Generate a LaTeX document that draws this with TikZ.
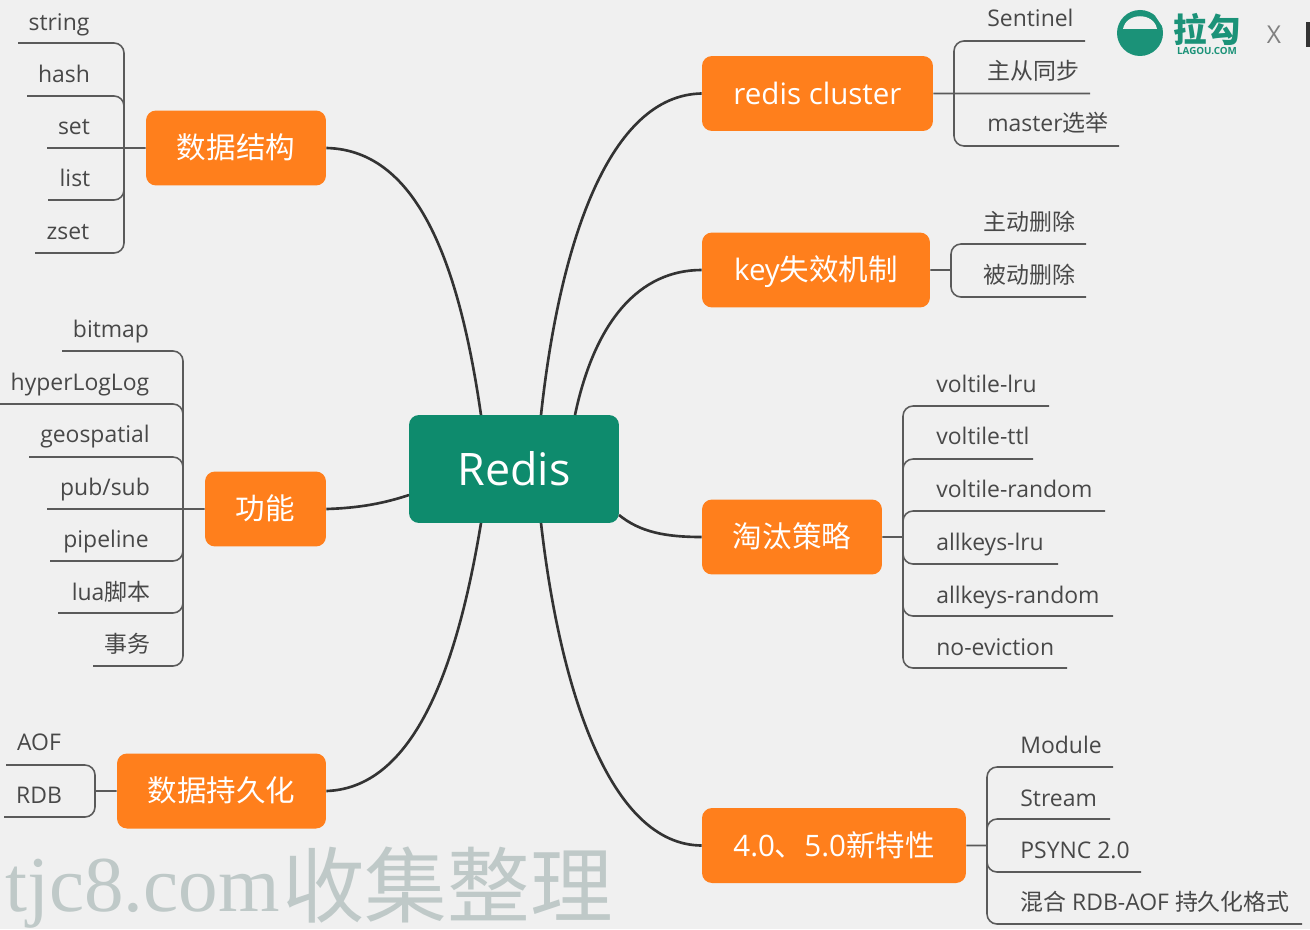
\documentclass[tikz,border=0pt]{standalone}
\usepackage{fontspec}
\setmainfont{Open Sans}
\newfontfamily\cjk{Noto Sans CJK SC}
\newfontfamily\wmfont{Liberation Serif}
\definecolor{bgpage}{HTML}{F0F0F0}
\definecolor{topicor}{HTML}{FF7F1C}
\definecolor{rootgr}{HTML}{0E8B6D}
\definecolor{logogr}{HTML}{1B9278}
\definecolor{inkgr}{HTML}{484848}
\definecolor{wmgr}{HTML}{BFC9C8}
\tikzset{
  topic/.style={fill=topicor,rounded corners=0.2cm,text=white,font=\fontsize{16.8}{20}\selectfont,minimum height=1.5cm,inner sep=0pt,text height=12pt,text depth=0pt},
  leaf/.style={text=inkgr,font=\fontsize{13.05}{16}\selectfont,inner sep=0pt,text height=9.6pt,text depth=0pt},
  twig/.style={draw=inkgr!90,line width=0.9pt,rounded corners=0.2cm},
  limb/.style={draw=black!80,line width=1.5pt}
}
\begin{document}
\begin{tikzpicture}[x=0.02cm,y=-0.02cm]
		\useasboundingbox[fill=bgpage] (0,0) rectangle (1310,929);
		% watermark
		\node[text=wmgr,font=\wmfont\fontsize{45}{50}\selectfont,anchor=base west,inner sep=0pt] (wma) at (5,911) {tjc8.com};
		\node[text=wmgr,font=\cjk\fontsize{47}{50}\selectfont,anchor=base west,inner sep=0pt] (wmb) at (282,916) {收集整理};
		% logo
		\fill[logogr] (1140,33) circle (23);
		\fill[bgpage] (1123,29) .. controls (1126,12) and (1154,12) .. (1157,29) -- cycle;
		\draw[bgpage,line width=2.2pt] (1157,15) -- (1163,24);
		\node[text=logogr,font=\cjk\bfseries\fontsize{19}{20}\selectfont,inner sep=0pt] (lg) at (1207,29) {拉勾};
		\node[text=logogr,font=\bfseries\fontsize{5.6}{6}\selectfont,inner sep=0pt] (lgb) at (1207,51) {LAGOU.COM};
		\node[text=gray,font=\fontsize{14}{16}\selectfont,inner sep=0pt] (xx) at (1274,35) {X};
		\fill[black!80] (1306,22) rectangle (1310,47);
		% topics
		\node[fill=rootgr,rounded corners=0.2cm,text=white,font=\fontsize{25.5}{30}\selectfont,minimum width=4.2cm,minimum height=2.16cm,inner sep=0pt] (root) at (514,469) {Redis};
		\node[topic,minimum width=3.6cm] (t1) at (236,148) {\cjk 数据结构};
		\node[topic,minimum width=2.42cm] (t2) at (265.5,509) {\cjk 功能};
		\node[topic,minimum width=4.18cm] (t3) at (221.5,791) {\cjk 数据持久化};
		\node[topic,minimum width=4.62cm] (t4) at (817.5,93.5) {redis cluster};
		\node[topic,minimum width=4.56cm] (t5) at (816,270) {key{\cjk 失效机制}};
		\node[topic,minimum width=3.6cm] (t6) at (792,537) {\cjk 淘汰策略};
		\node[topic,minimum width=5.28cm] (t7) at (834,845.5) {4.0{\cjk 、}5.0{\cjk 新特性}};
		% where the limbs meet the root
		\coordinate (ra) at (481,415);
		\coordinate (rb) at (541,415);
		\coordinate (rc) at (575,415);
		\coordinate (rd) at (409,495);
		\coordinate (re) at (619,515);
		\coordinate (rf) at (481,523);
		\coordinate (rg) at (541,523);
		\draw[limb] (t1.east) .. controls (420,150) and (460,270) .. (ra);
		\draw[limb] (t2.east) .. controls (360,508) and (385,503) .. (rd);
		\draw[limb] (t3.east) .. controls (420,788) and (460,650) .. (rf);
		\draw[limb] (t4.west) .. controls (610,95) and (560,240) .. (rb);
		\draw[limb] (t5.west) .. controls (640,270) and (595,320) .. (rc);
		\draw[limb] (t6.west) .. controls (665,537) and (640,532) .. (re);
		\draw[limb] (t7.west) .. controls (610,845) and (560,690) .. (rg);
		% leaves of t1
		\coordinate (h1) at (124,148);
		\node[leaf] (a1) at (59,22) {string};
		\node[leaf] (a2) at (64,74) {hash};
		\node[leaf] (a3) at (74,126) {set};
		\node[leaf] (a4) at (75,178) {list};
		\node[leaf] (a5) at (68,231) {zset};
		\coordinate (a1e) at (18,43);
		\coordinate (a2e) at (27,96);
		\coordinate (a3e) at (47,148);
		\coordinate (a4e) at (48,200);
		\coordinate (a5e) at (35,253);
		\draw[twig] (a1e) -| (h1)
		(a2e) -| (h1)
		(a3e) -- (t1.west)
		(a4e) -| (h1)
		(a5e) -| (h1);
		% leaves of t2
		\coordinate (h2) at (183,509);
		\node[leaf] (b1) at (111,329) {bitmap};
		\node[leaf] (b2) at (80,382) {hyperLogLog};
		\node[leaf] (b3) at (95,434) {geospatial};
		\node[leaf] (b4) at (105,487) {pub/sub};
		\node[leaf] (b5) at (106,539) {pipeline};
		\node[leaf] (b6) at (111,592) {lua{\cjk 脚本}};
		\node[leaf] (b7) at (127,644) {\cjk 事务};
		\coordinate (b1e) at (62,351);
		\coordinate (b2e) at (0,404);
		\coordinate (b3e) at (29,457);
		\coordinate (b4e) at (47,509);
		\coordinate (b5e) at (50,561);
		\coordinate (b6e) at (58,613);
		\coordinate (b7e) at (93,666);
		\draw[twig] (b1e) -| (h2)
		(b2e) -| (h2)
		(b3e) -| (h2)
		(b4e) -- (t2.west)
		(b5e) -| (h2)
		(b6e) -| (h2)
		(b7e) -| (h2);
		% leaves of t3
		\coordinate (h3) at (95,791);
		\node[leaf] (c1) at (39,742) {AOF};
		\node[leaf] (c2) at (39,795) {RDB};
		\coordinate (c1e) at (6,765);
		\coordinate (c2e) at (4,817);
		\draw[twig] (c1e) -| (h3)
		(c2e) -| (h3)
		(h3) -- (t3.west);
		% leaves of t4
		\coordinate (h4) at (954,93.5);
		\node[leaf,anchor=west] (d1) at (987,18) {Sentinel};
		\node[leaf,anchor=west] (d2) at (987,71) {\cjk 主从同步};
		\node[leaf,anchor=west] (d3) at (987,123) {master{\cjk 选举}};
		\coordinate (d1e) at (1085,41);
		\coordinate (d2e) at (1090,93.5);
		\coordinate (d3e) at (1119,146);
		\draw[twig] (d1e) -| (h4)
		(d2e) -- (t4.east)
		(d3e) -| (h4);
		% leaves of t5
		\coordinate (h5) at (951,270);
		\node[leaf,anchor=west] (e1) at (983,222) {\cjk 主动删除};
		\node[leaf,anchor=west] (e2) at (983,275) {\cjk 被动删除};
		\coordinate (e1e) at (1086,244);
		\coordinate (e2e) at (1086,297);
		\draw[twig] (e1e) -| (h5)
		(e2e) -| (h5)
		(h5) -- (t5.east);
		% leaves of t6
		\coordinate (h6) at (903,537);
		\node[leaf,anchor=west] (f1) at (936,384) {voltile-lru};
		\node[leaf,anchor=west] (f2) at (936,436) {voltile-ttl};
		\node[leaf,anchor=west] (f3) at (936,489) {voltile-random};
		\node[leaf,anchor=west] (f4) at (936,542) {allkeys-lru};
		\node[leaf,anchor=west] (f5) at (936,595) {allkeys-random};
		\node[leaf,anchor=west] (f6) at (936,647) {no-eviction};
		\coordinate (f1e) at (1049,406);
		\coordinate (f2e) at (1033,459);
		\coordinate (f3e) at (1105,511);
		\coordinate (f4e) at (1058,564);
		\coordinate (f5e) at (1113,616);
		\coordinate (f6e) at (1067,668);
		\draw[twig] (f1e) -| (h6)
		(f2e) -| (h6)
		(f3e) -| (h6)
		(f4e) -| (h6)
		(f5e) -| (h6)
		(f6e) -| (h6)
		(h6) -- (t6.east);
		% leaves of t7
		\coordinate (h7) at (987,845.5);
		\node[leaf,anchor=west] (g1) at (1020,745) {Module};
		\node[leaf,anchor=west] (g2) at (1020,798) {Stream};
		\node[leaf,anchor=west] (g3) at (1020,850) {PSYNC 2.0};
		\node[leaf,anchor=west] (g4) at (1020,902) {{\cjk 混合} RDB-AOF {\cjk 持久化格式}};
		\coordinate (g1e) at (1113,767);
		\coordinate (g2e) at (1110,819);
		\coordinate (g3e) at (1141,872);
		\coordinate (g4e) at (1302,924);
		\draw[twig] (g1e) -| (h7)
		(g2e) -| (h7)
		(g3e) -| (h7)
		(g4e) -| (h7)
		(h7) -- (t7.east);
		\end{tikzpicture}
\end{document}
